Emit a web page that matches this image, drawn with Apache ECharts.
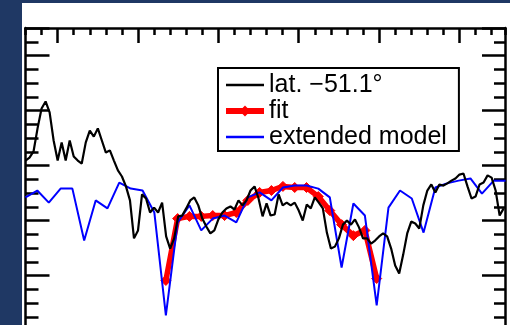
<!DOCTYPE html>
<html>
<head>
<meta charset="utf-8">
<script src="https://cdn.jsdelivr.net/npm/echarts@6/dist/echarts.min.js"></script>
<style>
  html, body { margin: 0; padding: 0; width: 510px; height: 325px; overflow: hidden; background: #1f3864; }
  #panel { position: absolute; left: 22px; top: 3px; width: 488px; height: 420px; background: #ffffff; }
</style>
</head>
<body>
<div id="panel"></div>
<script>
// Observed profile at latitude -51.1 deg (sample positions along the track)
const obsX = [-12,-10.5,-9,-7.5,-6,-4.5,-3,-1.5,0,1.5,3,4.5,6,7.5,9,10.5,12,13.5,15,16.5,18,19.5,21,22.5,24,25.5,27,28.5,30,31.5,33,34.5,36,37.5,39,40.5,42,43.5,45,46.5,48,49.5,51,52.5,54,55.5,57,58.5,60,61.5,63,64.5,66,67.5,69,70.5,72,73.5,75,76.5,78,79.5,81,82.5,84,85.5,87,88.5,90,91.5,93,94.5,96,97.5,99,100.5,102,103.5,105,106.5,108,109.5,111,112.5,114,115.5,117,118.5,120,121.5,123,124.5,126,127.5,129,130.5,132,133.5,135,136.5,138,139.5,141,142.5,144,145.5,147,148.5,150,151.5,153,154.5,156,157.5,159,160.5,162,163.5,165,166.5];
const obsY = [1.8,2.9,5.1,13.5,20.7,23.3,19.3,9.1,1.8,8.4,1.8,9.1,3.3,1.8,0.7,8.4,12.7,10.5,13.5,9.1,4.7,5.5,1.8,-1.8,-4.0,-7.6,-12.7,-26.5,-23.6,-10.5,-12.0,-17.1,-15.3,-17.1,-13.5,-25.8,-30.2,-26.5,-18.5,-18.2,-15.6,-12.7,-11.6,-14.5,-19.3,-22.2,-24.7,-23.6,-19.6,-17.1,-15.6,-14.9,-16.0,-12.7,-14.5,-12.7,-9.1,-7.6,-12.0,-18.5,-13.8,-18.2,-17.8,-10.5,-14.5,-13.5,-14.5,-13.5,-16.4,-20.0,-14.2,-15.6,-11.6,-13.5,-15.6,-24.4,-30.2,-29.5,-26.5,-21.5,-20.0,-21.5,-19.6,-22.5,-26.5,-26.5,-28.4,-27.3,-25.8,-24.7,-25.8,-30.2,-36.4,-39.3,-32.4,-24.7,-20.4,-21.1,-22.9,-14.5,-9.1,-6.9,-9.8,-6.9,-7.3,-6.5,-5.5,-4.7,-3.3,-2.9,-7.6,-12.0,-11.3,-6.9,-6.2,-3.6,-4.4,-9.1,-18.2,-15.6];

// Extended model, evaluated on a coarser grid
const modelX = [-12.0,-7.6,-3.3,1.1,5.5,9.9,14.2,18.6,23.0,27.3,31.7,36.1,40.4,44.8,49.2,53.6,57.9,62.3,66.7,71.0,75.4,79.8,84.1,88.5,92.9,97.3,101.6,106.0,110.4,114.7,119.1,123.5,127.8,132.2,136.6,141.0,145.3,149.7,154.1,158.4,162.8,167.2];
const modelY = [-11.6,-9.1,-13.5,-8.4,-8.4,-27.3,-12.7,-15.6,-6.2,-8.4,-9.1,-17.1,-54.5,-20.7,-14.5,-23.6,-19.3,-18.2,-20.7,-11.6,-9.8,-12.7,-8.0,-7.3,-7.3,-8.4,-11.6,-37.1,-13.8,-18.2,-50.9,-15.3,-9.1,-12.0,-24.4,-8.0,-6.5,-5.5,-4.7,-10.2,-5.5,-5.5];

// Fit over the central section
const fitX = [40.4,44.8,49.2,53.6,57.9,62.3,66.7,71.0,75.4,79.8,84.1,88.5,92.9,97.3,101.6,106.0,110.4,114.7,119.1];
const fitY = [-41.8,-19.3,-18.5,-18.5,-18.2,-18.2,-17.1,-12.7,-9.8,-9.1,-7.6,-8.0,-8.0,-11.3,-16.4,-21.5,-25.5,-23.6,-41.1];

// Axis ticks
const xMajorTicks = [0, 30, 60, 90, 120, 150];
const xRange = [-12, 167];
const yRange = [-80, 50];

const seriesNames = ['lat. \u221251.1\u00b0', 'fit', 'extended model'];

function pairs(xs, ys) { return xs.map((x, i) => [x, ys[i]]); }

const black = '#000000';
const frame = { show: true, onZero: false, lineStyle: { color: black, width: 2.5 } };
const noLine = { show: false, onZero: false };

function xAxisDef(line, tick) {
  return {
    type: 'value', position: 'top', min: xRange[0], max: xRange[1],
    axisLine: line, axisTick: tick, axisLabel: { show: false }, splitLine: { show: false }
  };
}
function yAxisDef(pos, line, interval, len) {
  return {
    type: 'value', position: pos, min: yRange[0], max: yRange[1], interval: interval,
    axisLine: line,
    axisTick: { show: true, inside: true, length: len, lineStyle: { color: black, width: 2.5 } },
    axisLabel: { show: false }, splitLine: { show: false }
  };
}

const hiddenMarker = { opacity: 0 };

const chart = echarts.init(document.getElementById('panel'), null, { renderer: 'canvas' });
chart.setOption({
  animation: false,
  backgroundColor: '#ffffff',
  grid: { left: 3.5, right: 5, top: 25, height: 357.5, show: false },
  xAxis: [
    xAxisDef(frame, { show: true, inside: true, length: 15, customValues: xMajorTicks, lineStyle: { color: black, width: 2.5 } }),
    Object.assign(xAxisDef(noLine, { show: true, inside: true, length: 7, lineStyle: { color: black, width: 2.5 } }), { interval: 6 })
  ],
  yAxis: [
    yAxisDef('left', frame, 20, 24),
    yAxisDef('left', noLine, 5, 13),
    yAxisDef('right', frame, 20, 23),
    yAxisDef('right', noLine, 5, 11)
  ],
  legend: {
    orient: 'vertical', left: 196, top: 65,
    padding: [4, 12, 1, 5], itemGap: 0, itemWidth: 38, itemHeight: 10,
    borderColor: black, borderWidth: 2, backgroundColor: '#ffffff',
    textStyle: { fontFamily: 'Liberation Sans, Arial, sans-serif', fontSize: 25, lineHeight: 26, color: black },
    data: [
      { name: seriesNames[0], lineStyle: { width: 2.5 }, itemStyle: hiddenMarker },
      { name: seriesNames[1], lineStyle: { width: 6 } },
      { name: seriesNames[2], lineStyle: { width: 2.5 }, itemStyle: hiddenMarker }
    ]
  },
  series: [
    {
      name: seriesNames[1], type: 'line', data: pairs(fitX, fitY),
      symbol: 'diamond', symbolSize: 10, showSymbol: true,
      lineStyle: { color: '#ff0000', width: 5.5 },
      itemStyle: { color: '#ff0000', borderColor: '#ff0000', borderWidth: 1 },
      z: 2
    },
    {
      name: seriesNames[2], type: 'line', data: pairs(modelX, modelY),
      showSymbol: false, symbol: 'none',
      lineStyle: { color: '#0000ff', width: 2 }, itemStyle: { color: '#0000ff' },
      z: 3
    },
    {
      name: seriesNames[0], type: 'line', data: pairs(obsX, obsY),
      showSymbol: false, symbol: 'none',
      lineStyle: { color: black, width: 2.2 }, itemStyle: { color: black },
      z: 4
    }
  ]
});
</script>
</body>
</html>
